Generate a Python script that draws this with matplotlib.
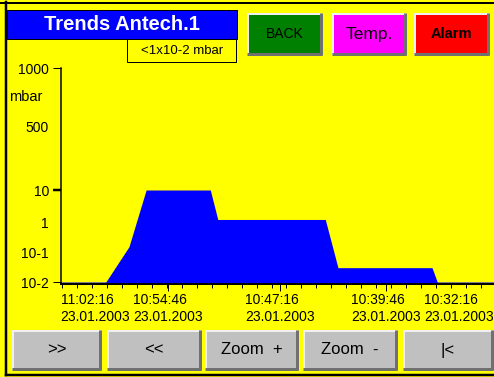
import numpy as np
import matplotlib.pyplot as plt
from matplotlib.patches import Rectangle

plt.rcParams['font.family'] = ['Liberation Sans', 'DejaVu Sans']

# trend data: minutes from the left edge of the time axis, pressure in mbar
minutes = [0.0, 3.0, 4.55, 5.7, 10.0, 10.5, 17.7, 18.55, 24.85, 25.2, 29.0]
pressure = [0.01, 0.01, 0.15, 10, 10, 1.2, 1.2, 0.03, 0.03, 0.01, 0.01]

# time axis labels
label_minutes = [2.3, 7.17, 14.67, 21.75, 26.66]
label_times = ["11:02:16", "10:54:46", "10:47:16", "10:39:46", "10:32:16"]
label_dates = ["23.01.2003"] * 5

# pressure axis (the display uses an uneven scale)
ytick_values = [0.01, 0.1, 1, 10, 500, 1000]
ytick_labels = ["10-2", "10-1", "1", "10", "500", "1000"]
scale_log = [-3, -2, -1, 0, 1, np.log10(500), 3, 4]
scale_pos = [-30, 0, 30, 60, 92, 156, 214, 272]

top_buttons = ["BACK", "Temp.", "Alarm"]
bottom_buttons = [">>", "<<", "Zoom  +", "Zoom  -", "|<"]

W, H = 494, 377


def fwd(p):
    p = np.clip(np.asarray(p, dtype=float), 1e-9, None)
    return np.interp(np.log10(p), scale_log, scale_pos)


def inv(y):
    return 10 ** np.interp(np.asarray(y, dtype=float), scale_pos, scale_log)


fig = plt.figure(figsize=(W / 100, H / 100), dpi=100)
fig.patch.set_facecolor('#ffff00')

# panel layer in pixel coordinates
bg = fig.add_axes([0, 0, 1, 1], zorder=0)
bg.set_xlim(0, W)
bg.set_ylim(H, 0)
bg.axis('off')

px = 0.72  # one pixel in points


def button(x0, y0, x1, y1, color, text, **kw):
    bg.add_patch(Rectangle((x0, y0), x1 - x0, y1 - y0, facecolor=color, edgecolor='none'))
    bg.plot([x0, x1], [y0 + 1, y0 + 1], color='#f0f0f0', lw=2 * px, solid_capstyle='butt')
    bg.plot([x0 + 1, x0 + 1], [y0, y1], color='#f0f0f0', lw=2 * px, solid_capstyle='butt')
    bg.plot([x0, x1], [y1 - 1, y1 - 1], color='#707070', lw=3 * px, solid_capstyle='butt')
    bg.plot([x1 - 1, x1 - 1], [y0, y1], color='#707070', lw=3 * px, solid_capstyle='butt')
    bg.text((x0 + x1) / 2, (y0 + y1) / 2, text, ha='center', va='center', color='black', **kw)


# outer frame
bg.plot([0, W], [2.5, 2.5], color='black', lw=2 * px)
bg.plot([6, 6], [2, 375], color='black', lw=2.5 * px)
bg.plot([6, W], [375, 375], color='black', lw=2.5 * px)

# title boxes
bg.add_patch(Rectangle((7, 10), 230, 29, facecolor='#0000ff', edgecolor='black', lw=px))
bg.text(122, 24, "Trends Antech.1", ha='center', va='center', color='white',
        fontsize=14.5, fontweight='bold')
bg.add_patch(Rectangle((127, 39), 109, 23, facecolor='#ffff00', edgecolor='black', lw=px))
bg.text(182, 51, "<1x10-2 mbar", ha='center', va='center', fontsize=9.5)

button(247, 13, 322, 55, '#008000', top_buttons[0], fontsize=10)
button(332, 13, 406, 55, '#ff00ff', top_buttons[1], fontsize=12.5)
button(414, 13, 489, 55, '#ff0000', top_buttons[2], fontsize=10.5, fontweight='bold')

for (x0, x1), lab in zip([(12, 101), (107, 201), (205, 298), (303, 397), (403, 493)],
                         bottom_buttons):
    button(x0, 330, x1, 370, '#c0c0c0', lab, fontsize=12)

bg.text(9, 97, "mbar", ha='left', va='center', fontsize=10.5)

# trend chart
ax = fig.add_axes([61 / W, (H - 283.5) / H, (W - 61) / W, (283.5 - 68) / H], zorder=1)
ax.set_facecolor('none')
ax.set_yscale('function', functions=(fwd, inv))
ax.set_ylim(inv(-1.5), 1000)
ax.set_xlim(0, 29.0)

ax.fill_between(minutes, inv(-1.5), pressure, color='#0000ff', lw=0)

for s in ['top', 'right']:
    ax.spines[s].set_visible(False)
ax.spines['left'].set_linewidth(1.5 * px)
ax.spines['bottom'].set_linewidth(2 * px)

ax.set_yticks(ytick_values)
ax.set_yticklabels(ytick_labels)
ax.yaxis.set_minor_locator(plt.NullLocator())
ax.tick_params(axis='y', length=8 * px, width=px, pad=4 * px, labelsize=10)
for t, v in zip(ax.yaxis.get_major_ticks(), ytick_values):
    if v in (0.1, 1, 500):
        t.tick1line.set_visible(False)
    if v == 10:
        t.tick1line.set_markeredgewidth(2.5 * px)

ax.set_xticks(label_minutes)
ax.set_xticklabels([f"{t}\n{d}" for t, d in zip(label_times, label_dates)],
                   multialignment='left')
ax.set_xticks(np.arange(0.1, 29.1, 1.0), minor=True)
ax.tick_params(axis='x', which='major', length=7 * px, width=px, pad=3 * px, labelsize=10)
ax.tick_params(axis='x', which='minor', length=3.5 * px, width=px)
for i, t in enumerate(ax.xaxis.get_major_ticks()):
    if i in (0, 4):
        t.tick1line.set_visible(False)

fig.savefig("out.png", dpi=100, facecolor=fig.get_facecolor())
